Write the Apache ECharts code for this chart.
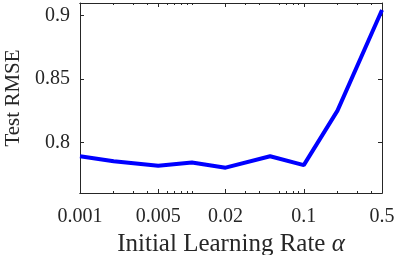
<!DOCTYPE html>
<html>
<head>
<meta charset="utf-8">
<script src="https://cdn.jsdelivr.net/npm/echarts@6/dist/echarts.min.js"></script>
<style>html,body{margin:0;padding:0;background:#fff;}#c{width:399px;height:255px;}</style>
</head>
<body>
<div id="c"></div>
<script>
const learningRates = [0.001, 0.002, 0.005, 0.01, 0.02, 0.05, 0.1, 0.2, 0.5];
const testRMSE = [0.789, 0.785, 0.7815, 0.784, 0.780, 0.789, 0.782, 0.825, 0.9045];
const xTickLabels = [0.001, 0.005, 0.02, 0.1, 0.5];
const xMinorTicks = [0.002, 0.003, 0.004, 0.006, 0.007, 0.008, 0.009, 0.01, 0.03, 0.04, 0.06, 0.07, 0.08, 0.09, 0.2, 0.3, 0.4];
const yTickLabels = [0.8, 0.85, 0.9];

const FONT = '"Liberation Serif", "Times New Roman", serif';
const lineStyle = { color: '#262626', width: 1 };

function xAxisDef(position, ticks, len, showLabel, name) {
  const a = {
    type: 'log', logBase: 10, min: 0.001, max: 0.5, position: position,
    axisLine: { show: true, lineStyle: lineStyle },
    axisTick: { show: true, inside: true, length: len, customValues: ticks, lineStyle: lineStyle },
    axisLabel: { show: showLabel, customValues: xTickLabels, margin: 14, color: '#262626',
      fontFamily: FONT, fontSize: 20, formatter: v => String(v) },
    splitLine: { show: false }, minorTick: { show: false }
  };
  if (name) {
    a.name = '{r|Initial Learning Rate }{a|α}';
    a.nameLocation = 'middle';
    a.nameGap = 37;
    a.nameTextStyle = { rich: {
      r: { fontFamily: FONT, fontSize: 25, color: '#262626' },
      a: { fontFamily: FONT, fontSize: 25, fontStyle: 'italic', color: '#262626' } } };
  }
  return a;
}
function yAxisDef(position, showLabel, name) {
  const a = {
    type: 'value', min: 0.76, max: 0.91, position: position,
    axisLine: { show: true, lineStyle: lineStyle },
    axisTick: { show: true, inside: true, length: 4, customValues: yTickLabels, lineStyle: lineStyle },
    axisLabel: { show: showLabel, customValues: yTickLabels, margin: 10, color: '#262626',
      fontFamily: FONT, fontSize: 20, formatter: v => String(v) },
    splitLine: { show: false }
  };
  if (name) {
    a.name = 'Test RMSE';
    a.nameLocation = 'middle';
    a.nameGap = 54;
    a.nameTextStyle = { fontFamily: FONT, fontSize: 21, color: '#262626' };
  }
  return a;
}

const chart = echarts.init(document.getElementById('c'), null, { renderer: 'canvas' });
chart.setOption({
  animation: false,
  backgroundColor: '#fff',
  grid: { left: 80, right: 17, top: 3, bottom: 62, containLabel: false, outerBoundsMode: 'none' },
  xAxis: [
    xAxisDef('bottom', xTickLabels, 4, true, true),
    xAxisDef('bottom', xMinorTicks, 2, false, false),
    xAxisDef('top', xTickLabels, 4, false, false),
    xAxisDef('top', xMinorTicks, 2, false, false)
  ],
  yAxis: [
    yAxisDef('left', true, true),
    yAxisDef('right', false, false)
  ],
  series: [{
    type: 'line',
    data: learningRates.map((x, i) => [x, testRMSE[i]]),
    showSymbol: false, symbol: 'none',
    lineStyle: { color: '#0000ff', width: 4 },
    clip: true
  }]
});
</script>
</body>
</html>
